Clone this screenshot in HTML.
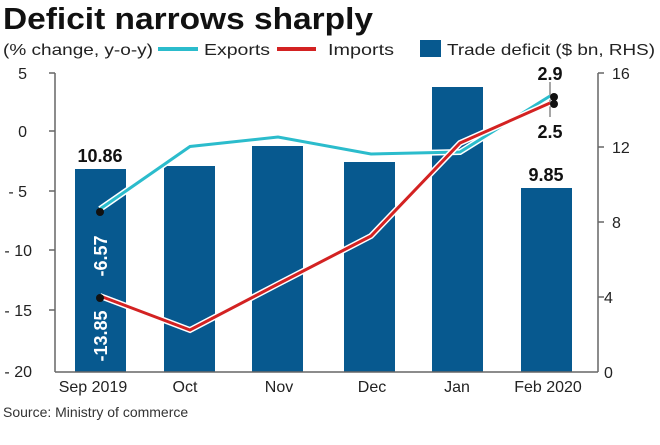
<!DOCTYPE html><html><head><style>body{margin:0;background:#fff}svg{font-family:"Liberation Sans",sans-serif}</style></head><body>
<svg width="660" height="440" viewBox="0 0 660 440">
<text x="3" y="29" font-size="31" font-weight="bold" fill="#111" textLength="370" lengthAdjust="spacingAndGlyphs">Deficit narrows sharply</text>
<text x="3" y="55" font-size="16" fill="#222" textLength="150" lengthAdjust="spacingAndGlyphs">(% change, y-o-y)</text>
<line x1="158" y1="49" x2="198" y2="49" stroke="#2bbccc" stroke-width="4"/>
<text x="204" y="55" font-size="16" fill="#222" textLength="66" lengthAdjust="spacingAndGlyphs">Exports</text>
<line x1="277" y1="49" x2="316" y2="49" stroke="#d32222" stroke-width="4"/>
<text x="328" y="55" font-size="16" fill="#222" textLength="66" lengthAdjust="spacingAndGlyphs">Imports</text>
<rect x="420" y="40" width="21" height="17" fill="#07598f"/>
<text x="447" y="55" font-size="16" fill="#222" textLength="208" lengthAdjust="spacingAndGlyphs">Trade deficit ($ bn, RHS)</text>
<g fill="#07598f">
<rect x="75" y="169" width="51" height="203"/>
<rect x="164" y="166" width="51" height="206"/>
<rect x="252" y="146" width="51" height="226"/>
<rect x="344" y="162" width="51" height="210"/>
<rect x="432" y="87" width="51" height="285"/>
<rect x="521" y="188" width="51" height="184"/>
</g>
<g stroke="#666" stroke-width="1.5" fill="none">
<line x1="55" y1="73" x2="55" y2="372"/><line x1="55" y1="372" x2="598" y2="372"/><line x1="598" y1="73" x2="598" y2="372"/>
<line x1="49" y1="73" x2="55" y2="73"/><line x1="49" y1="131" x2="55" y2="131"/><line x1="49" y1="191" x2="55" y2="191"/><line x1="49" y1="250" x2="55" y2="250"/><line x1="49" y1="310" x2="55" y2="310"/>
<line x1="598" y1="73" x2="604" y2="73"/><line x1="598" y1="147" x2="604" y2="147"/><line x1="598" y1="222" x2="604" y2="222"/><line x1="598" y1="297" x2="604" y2="297"/>
<line x1="550" y1="82" x2="550" y2="117" stroke="#888"/>
</g>
<g font-size="16" fill="#222" text-anchor="end">
<text x="27" y="79">5</text><text x="27" y="137">0</text><text x="27" y="197">- 5</text><text x="32" y="256">- 10</text><text x="32" y="316">- 15</text><text x="32" y="377">- 20</text>
</g>
<g font-size="16" fill="#222">
<text x="612" y="79">16</text><text x="612" y="153">12</text><text x="612" y="228">8</text><text x="604" y="303">4</text><text x="604" y="378">0</text>
</g>
<g font-size="16" fill="#222" text-anchor="middle">
<text x="93" y="392">Sep 2019</text><text x="185" y="392">Oct</text><text x="279" y="392">Nov</text><text x="372" y="392">Dec</text><text x="457" y="392">Jan</text><text x="548" y="392">Feb 2020</text>
</g>
<text x="3" y="417" font-size="14" fill="#333">Source: Ministry of commerce</text>
<polyline points="100,209 190,146.5 278,137 371,154 460,152 550,96" fill="none" stroke="#fff" stroke-width="6"/>
<polyline points="100,209 190,146.5 278,137 371,154 460,152 550,96" fill="none" stroke="#2bbccc" stroke-width="3"/>
<polyline points="100,296 190,330 278,284 371,236 460,143 550,103" fill="none" stroke="#fff" stroke-width="6"/>
<polyline points="100,296 190,330 278,284 371,236 460,143 550,103" fill="none" stroke="#d32222" stroke-width="3"/>
<circle cx="100" cy="212" r="4" fill="#111"/><circle cx="100" cy="298" r="4" fill="#111"/>
<circle cx="554" cy="97" r="4" fill="#111"/><circle cx="554" cy="104" r="4" fill="#111"/>
<g font-weight="bold" fill="#111" font-size="18" text-anchor="middle">
<text x="100" y="162">10.86</text><text x="546" y="181">9.85</text><text x="550" y="80">2.9</text><text x="550" y="138">2.5</text>
</g>
<g font-weight="bold" fill="#fff" font-size="18" text-anchor="middle">
<text transform="translate(107,256) rotate(-90)">-6.57</text>
<text transform="translate(107,336) rotate(-90)">-13.85</text>
</g>
</svg></body></html>
